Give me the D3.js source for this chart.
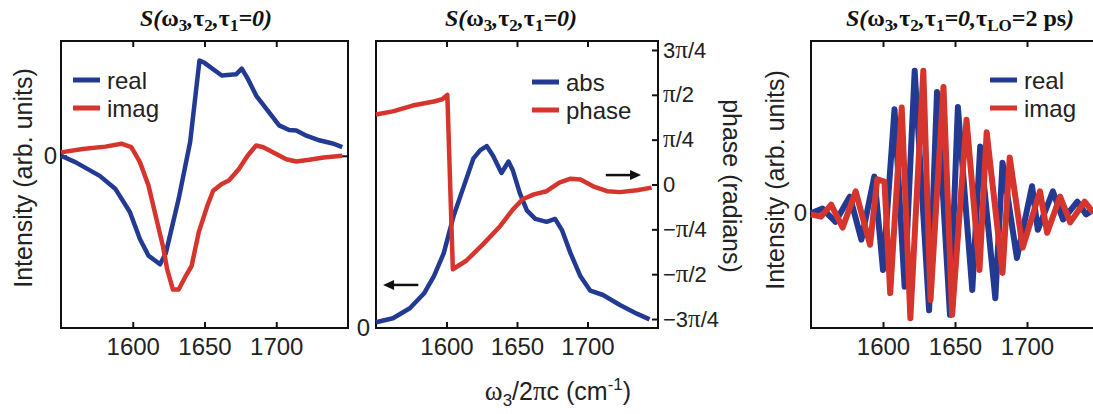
<!DOCTYPE html>
<html>
<head>
<meta charset="utf-8">
<script src="https://cdn.jsdelivr.net/npm/d3@7"></script>
<style>
  body { margin: 0; background: #fff; }
  svg { display: block; font-family: "Liberation Sans", Arial, sans-serif; }
</style>
</head>
<body>
<svg id="chart" width="1093" height="414"></svg>
<script>
// panel 1: S(w3) real / imag
const freqReal1 = [1550, 1560, 1577, 1588, 1598, 1605, 1611, 1619, 1623, 1632, 1640, 1646.5, 1650, 1662, 1672, 1676, 1680, 1686, 1693, 1702, 1709, 1714, 1721, 1730, 1740, 1746];
const real1 = [0, -0.11, -0.35, -0.58, -0.98, -1.45, -1.74, -1.89, -1.70, -0.75, 0.24, 1.66, 1.62, 1.40, 1.42, 1.52, 1.35, 1.05, 0.82, 0.53, 0.45, 0.44, 0.35, 0.27, 0.21, 0.15];
const freqImag1 = [1550, 1565, 1581, 1592, 1599, 1605, 1611, 1616, 1621, 1624, 1628, 1632, 1637, 1641, 1646, 1652, 1656, 1662, 1667, 1674, 1680, 1686, 1691, 1700, 1707, 1714, 1723, 1733, 1746];
const imag1 = [0.06, 0.12, 0.16, 0.21, 0.15, -0.11, -0.52, -1.05, -1.57, -1.98, -2.33, -2.33, -2.09, -1.92, -1.33, -0.87, -0.61, -0.49, -0.43, -0.23, 0, 0.18, 0.15, 0.03, -0.06, -0.1, -0.07, -0.03, 0];

// panel 2: abs (left axis) and phase in units of pi/4 (right axis)
const freqAbs2 = [1550, 1562, 1574, 1584, 1591, 1598, 1605, 1612, 1619, 1624, 1628.5, 1633, 1639, 1644, 1647, 1652, 1657, 1663, 1671, 1677, 1682, 1688, 1695, 1702, 1711, 1723, 1735, 1744];
const abs2 = [0.02, 0.034, 0.069, 0.12, 0.18, 0.26, 0.39, 0.49, 0.59, 0.62, 0.634, 0.60, 0.54, 0.58, 0.55, 0.47, 0.41, 0.38, 0.37, 0.38, 0.34, 0.26, 0.18, 0.13, 0.115, 0.08, 0.05, 0.03];
const freqPhase2 = [1550, 1562, 1576, 1591, 1597, 1600.6, 1604.5, 1614, 1626, 1638, 1647, 1654, 1662, 1671, 1680, 1688, 1695, 1704, 1714, 1723, 1735, 1745.5];
const phase2 = [1.56, 1.63, 1.76, 1.85, 1.90, 2.0, -1.89, -1.70, -1.33, -0.93, -0.56, -0.33, -0.22, -0.15, 0.04, 0.13, 0.11, -0.04, -0.15, -0.17, -0.13, -0.07];

// panel 3: tau_LO = 2 ps
const freqReal3 = [1550, 1558, 1567, 1577, 1585, 1594, 1600, 1608, 1615, 1622, 1632, 1637.5, 1646.5, 1652, 1662, 1667.5, 1678, 1683, 1693, 1703.5, 1707.5, 1718, 1725, 1735, 1741, 1746];
const real3 = [0, 0.08, -0.15, 0.29, -0.46, 0.64, -0.99, 1.81, -1.28, 2.48, -1.69, 2.11, -1.77, 1.85, -1.34, 1.16, -1.48, 0.88, -0.78, 0.47, -0.29, 0.38, -0.11, 0.2, -0.02, 0.06];
const freqImag3 = [1550, 1557, 1564, 1572, 1581, 1591, 1596, 1601, 1605, 1613, 1619, 1628, 1633, 1642, 1648, 1658, 1667, 1672, 1683, 1688, 1697, 1709, 1714, 1723, 1730, 1740, 1746];
const imag3 = [-0.02, -0.06, 0.15, -0.25, 0.38, -0.55, 0.59, 0.55, -1.39, 1.84, -1.83, 2.48, -1.51, 2.2, -1.77, 1.63, -0.99, 1.41, -1.04, 0.97, -0.6, 0.38, -0.34, 0.29, -0.16, 0.2, 0.01];

const xTicks = [1600, 1650, 1700];
const phaseTicks = [-3, -2, -1, 0, 1, 2, 3];
const phaseLabels = [["\u22123", "\u03c0", "/4"], ["\u2212", "\u03c0", "/2"], ["\u2212", "\u03c0", "/4"], ["0", "", ""], ["", "\u03c0", "/4"], ["", "\u03c0", "/2"], ["3", "\u03c0", "/4"]];

const blue = "#233a92";
const red = "#d5352d";
const serif = "'Liberation Serif', 'Times New Roman', serif";
const plotTop = 41, plotBottom = 328;

const svg = d3.select("#chart");

function frame(x0, x1, yDomain) {
  const x = d3.scaleLinear().domain([1550, 1750]).range([x0, x1]);
  const y = d3.scaleLinear().domain(yDomain).range([plotBottom, plotTop]);

  svg.append("rect")
    .attr("x", x0).attr("y", plotTop)
    .attr("width", x1 - x0).attr("height", plotBottom - plotTop)
    .attr("fill", "none").attr("stroke", "#111").attr("stroke-width", 2);

  const xb = svg.append("g")
    .attr("transform", `translate(0,${plotBottom})`)
    .call(d3.axisBottom(x).tickValues(xTicks).tickSize(-6).tickPadding(10).tickFormat(d3.format("d")));
  const xt = svg.append("g")
    .attr("transform", `translate(0,${plotTop})`)
    .call(d3.axisTop(x).tickValues(xTicks).tickSize(-6).tickFormat(""));
  [xb, xt].forEach(a => {
    a.select(".domain").remove();
    a.selectAll("line").attr("stroke", "#111").attr("stroke-width", 2);
    a.selectAll("text").attr("font-size", 24).attr("fill", "#222")
      .attr("font-family", "'Liberation Sans', Arial, sans-serif");
  });
  return { x, y };
}

function zeroTick(s, x0, x1, pad) {
  const l = svg.append("g").attr("transform", `translate(${x0},0)`)
    .call(d3.axisLeft(s.y).tickValues([0]).tickSize(-6).tickPadding(pad).tickFormat(d3.format("d")));
  const r = svg.append("g").attr("transform", `translate(${x1},0)`)
    .call(d3.axisRight(s.y).tickValues([0]).tickSize(-6).tickFormat(""));
  [l, r].forEach(a => {
    a.select(".domain").remove();
    a.selectAll("line").attr("stroke", "#111").attr("stroke-width", 2);
    a.selectAll("text").attr("font-size", 24).attr("fill", "#222")
      .attr("font-family", "'Liberation Sans', Arial, sans-serif");
  });
}

function series(s, xs, ys, color, w) {
  const line = d3.line().x(d => s.x(d[0])).y(d => s.y(d[1]));
  svg.append("path")
    .datum(d3.zip(xs, ys))
    .attr("d", line)
    .attr("fill", "none")
    .attr("stroke", color)
    .attr("stroke-width", w)
    .attr("stroke-linejoin", "round");
}

function legend(x, y, names) {
  names.forEach(([name, color], i) => {
    svg.append("line")
      .attr("x1", x).attr("x2", x + 27)
      .attr("y1", y + i * 28).attr("y2", y + i * 28)
      .attr("stroke", color).attr("stroke-width", 5);
    svg.append("text")
      .attr("x", x + 34).attr("y", y + i * 28 + 8.5)
      .attr("font-size", 24).attr("fill", "#222")
      .text(name);
  });
}

// parts: [text, kind] ; kind g = greek, s = subscript, u = upright
function title(cx, parts) {
  const t = svg.append("text")
    .attr("x", cx).attr("y", 26)
    .attr("text-anchor", "middle")
    .attr("font-family", serif)
    .attr("font-size", 24)
    .attr("font-weight", "bold")
    .attr("font-style", "italic")
    .attr("fill", "#111");
  let shifted = false;
  parts.forEach(([str, kind]) => {
    const sp = t.append("tspan").text(str);
    if (kind === "s") {
      sp.attr("font-size", 17).attr("font-style", "normal").attr("dy", shifted ? 0 : 5);
      shifted = true;
    } else {
      if (shifted) { sp.attr("dy", -5); shifted = false; }
      if (kind === "g" || kind === "u") sp.attr("font-style", "normal");
    }
  });
}

function intensityLabel(cx, cy) {
  svg.append("text")
    .attr("transform", `translate(${cx},${cy}) rotate(-90)`)
    .attr("text-anchor", "middle")
    .attr("dy", "0.35em")
    .attr("font-size", 25).attr("fill", "#222")
    .text("Intensity (arb. units)");
}

function arrow(x1, x2, y) {
  const dir = Math.sign(x2 - x1);
  svg.append("line")
    .attr("x1", x1).attr("x2", x2 - dir * 8)
    .attr("y1", y).attr("y2", y)
    .attr("stroke", "#111").attr("stroke-width", 2.5);
  svg.append("path")
    .attr("d", `M${x2},${y}L${x2 - dir * 11},${y - 5}L${x2 - dir * 11},${y + 5}Z`)
    .attr("fill", "#111");
}

// ---------- panel 1
const p1 = frame(61, 348, [-3, 2]);
zeroTick(p1, 61, 348, 4);
series(p1, freqReal1, real1, blue, 4.5);
series(p1, freqImag1, imag1, red, 4.5);
legend(73, 80, [["real", blue], ["imag", red]]);
title(206, [["S(", ""], ["\u03c9", "g"], ["3", "s"], [",", ""], ["\u03c4", "g"], ["2", "s"], [",", ""], ["\u03c4", "g"], ["1", "s"], ["=0)", ""]]);
intensityLabel(23, 178);

// ---------- panel 2
const p2 = frame(376, 658, [0, 1]);
const phaseY = d3.scaleLinear().domain([-3.2, 3.2]).range([plotBottom, plotTop]);
const l2 = svg.append("g").attr("transform", "translate(376,0)")
  .call(d3.axisLeft(p2.y).tickValues([0]).tickSize(0).tickPadding(6).tickFormat(d3.format("d")));
l2.select(".domain").remove();
l2.selectAll("text").attr("font-size", 24).attr("fill", "#222")
  .attr("font-family", "'Liberation Sans', Arial, sans-serif");

const r2 = svg.append("g").attr("transform", "translate(658,0)")
  .call(d3.axisRight(phaseY).tickValues(phaseTicks).tickSize(-6).tickPadding(5).tickFormat(""));
r2.select(".domain").remove();
r2.selectAll("line").attr("stroke", "#111").attr("stroke-width", 2);
r2.selectAll(".tick text")
  .attr("font-size", 22).attr("fill", "#222")
  .attr("font-family", "'Liberation Sans', Arial, sans-serif")
  .each(function (d, i) {
    const lab = phaseLabels[i];
    const t = d3.select(this);
    t.append("tspan").text(lab[0]);
    t.append("tspan").attr("font-family", serif).attr("font-size", 25).text(lab[1]);
    t.append("tspan").text(lab[2]);
  });

series(p2, freqAbs2, abs2, blue, 4.5);
series({ x: p2.x, y: phaseY }, freqPhase2, phase2, red, 4.5);
legend(532, 82, [["abs", blue], ["phase", red]]);
title(511, [["S(", ""], ["\u03c9", "g"], ["3", "s"], [",", ""], ["\u03c4", "g"], ["2", "s"], [",", ""], ["\u03c4", "g"], ["1", "s"], ["=0)", ""]]);
arrow(p2.x(1580), p2.x(1555), p2.y(0.15));
arrow(p2.x(1713), p2.x(1738), phaseY(0.21));

svg.append("text")
  .attr("transform", "translate(732,186) rotate(90)")
  .attr("text-anchor", "middle")
  .attr("dy", "0.35em")
  .attr("font-size", 25).attr("fill", "#222")
  .text("phase (radians)");

const xl = svg.append("text")
  .attr("x", 558).attr("y", 400)
  .attr("text-anchor", "middle")
  .attr("font-size", 25).attr("fill", "#222");
xl.append("tspan").attr("font-family", serif).attr("font-size", 27).text("\u03c9");
xl.append("tspan").attr("font-size", 17).attr("dy", 6).text("3");
xl.append("tspan").attr("dy", -6).text("/2");
xl.append("tspan").attr("font-family", serif).attr("font-size", 27).text("\u03c0");
xl.append("tspan").text("c (cm");
xl.append("tspan").attr("font-size", 17).attr("dy", -10).text("-1");
xl.append("tspan").attr("dy", 10).text(")");

// ---------- panel 3
const p3 = frame(811, 1099, [-2, 3]);
zeroTick(p3, 811, 1099, 4);
series(p3, freqReal3, real3, blue, 6);
series(p3, freqImag3, imag3, red, 6);
legend(990, 80, [["real", blue], ["imag", red]]);
title(960, [["S(", ""], ["\u03c9", "g"], ["3", "s"], [",", ""], ["\u03c4", "g"], ["2", "s"], [",", ""], ["\u03c4", "g"], ["1", "s"], ["=0,", ""], ["\u03c4", "g"], ["LO", "s"], ["=2 ps", "u"], [")", ""]]);
intensityLabel(775, 180);
</script>
</body>
</html>
